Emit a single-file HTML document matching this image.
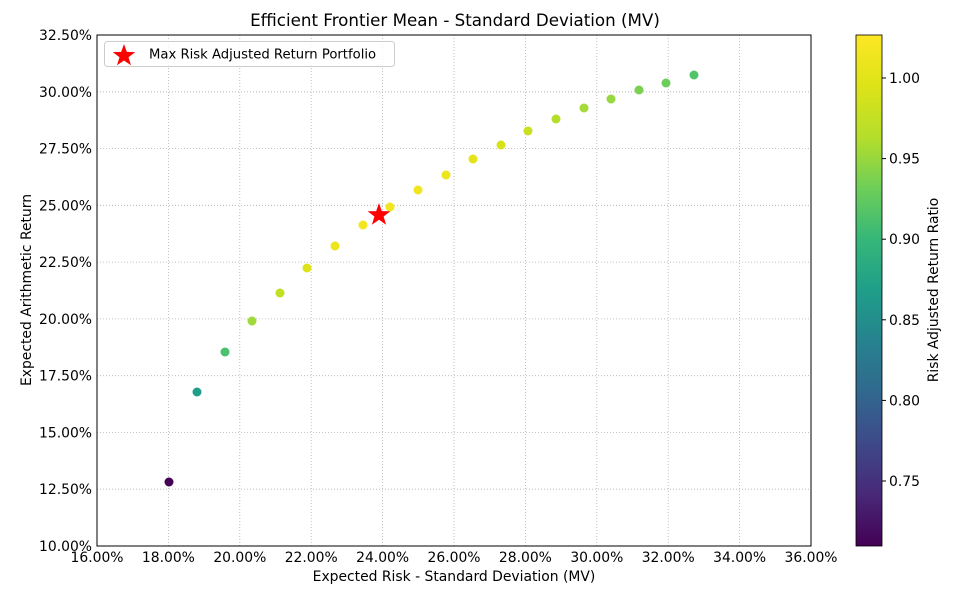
<!DOCTYPE html>
<html><head><meta charset="utf-8"><style>body{margin:0;background:#fff}svg{display:block;font-family:"DejaVu Sans","Liberation Sans",sans-serif}</style></head><body>
<svg width="970" height="593" viewBox="0 0 970 593" xmlns="http://www.w3.org/2000/svg">
<defs><linearGradient id="vir" x1="0" y1="1" x2="0" y2="0">
<stop offset="0" stop-color="#440154"/><stop offset="0.1" stop-color="#482878"/><stop offset="0.2" stop-color="#3e4989"/><stop offset="0.3" stop-color="#31688e"/><stop offset="0.4" stop-color="#26828e"/><stop offset="0.5" stop-color="#1f9e89"/><stop offset="0.6" stop-color="#35b779"/><stop offset="0.7" stop-color="#6ece58"/><stop offset="0.8" stop-color="#b5de2b"/><stop offset="0.9" stop-color="#dde318"/><stop offset="1" stop-color="#fde725"/></linearGradient></defs>
<text x="455" y="26" font-size="16.7" text-anchor="middle">Efficient Frontier Mean - Standard Deviation (MV)</text>
<g stroke="#b0b0b0" stroke-width="0.8" stroke-dasharray="1,2">
<line x1="168.4" y1="35" x2="168.4" y2="546"/><line x1="239.8" y1="35" x2="239.8" y2="546"/><line x1="311.2" y1="35" x2="311.2" y2="546"/><line x1="382.6" y1="35" x2="382.6" y2="546"/><line x1="454" y1="35" x2="454" y2="546"/><line x1="525.4" y1="35" x2="525.4" y2="546"/><line x1="596.8" y1="35" x2="596.8" y2="546"/><line x1="668.2" y1="35" x2="668.2" y2="546"/><line x1="739.6" y1="35" x2="739.6" y2="546"/>
<line x1="97" y1="91.8" x2="811" y2="91.8"/><line x1="97" y1="148.6" x2="811" y2="148.6"/><line x1="97" y1="205.3" x2="811" y2="205.3"/><line x1="97" y1="262.1" x2="811" y2="262.1"/><line x1="97" y1="318.9" x2="811" y2="318.9"/><line x1="97" y1="375.7" x2="811" y2="375.7"/><line x1="97" y1="432.4" x2="811" y2="432.4"/><line x1="97" y1="489.2" x2="811" y2="489.2"/>
</g>
<rect x="97" y="35" width="714" height="511" fill="none" stroke="#000" stroke-width="1"/>
<g font-size="13.9" text-anchor="middle">
<text x="97" y="562">16.00%</text><text x="168.4" y="562">18.00%</text><text x="239.8" y="562">20.00%</text><text x="311.2" y="562">22.00%</text><text x="382.6" y="562">24.00%</text><text x="454" y="562">26.00%</text><text x="525.4" y="562">28.00%</text><text x="596.8" y="562">30.00%</text><text x="668.2" y="562">32.00%</text><text x="739.6" y="562">34.00%</text><text x="811" y="562">36.00%</text>
<text x="454" y="581">Expected Risk - Standard Deviation (MV)</text>
</g>
<g font-size="13.9" text-anchor="end">
<text x="92" y="40">32.50%</text><text x="92" y="96.8">30.00%</text><text x="92" y="153.6">27.50%</text><text x="92" y="210.3">25.00%</text><text x="92" y="267.1">22.50%</text><text x="92" y="323.9">20.00%</text><text x="92" y="380.7">17.50%</text><text x="92" y="437.4">15.00%</text><text x="92" y="494.2">12.50%</text><text x="92" y="551">10.00%</text>
</g>
<text transform="translate(31,290) rotate(-90)" font-size="13.9" text-anchor="middle">Expected Arithmetic Return</text>
<g>
<circle cx="169" cy="482" r="4.5" fill="#440154"/><circle cx="197" cy="392" r="4.5" fill="#1f9e89"/><circle cx="225" cy="352" r="4.5" fill="#4ac16d"/><circle cx="252" cy="321" r="4.5" fill="#9fda3a"/><circle cx="280" cy="293" r="4.5" fill="#c2df23"/><circle cx="307" cy="268" r="4.5" fill="#dde318"/><circle cx="335" cy="246" r="4.5" fill="#ece51b"/><circle cx="363" cy="225" r="4.5" fill="#f3e51e"/><circle cx="390" cy="207" r="4.5" fill="#f3e51e"/><circle cx="418" cy="190" r="4.5" fill="#f1e51d"/><circle cx="446" cy="175" r="4.5" fill="#ece51b"/><circle cx="473" cy="159" r="4.5" fill="#e5e419"/><circle cx="501" cy="145" r="4.5" fill="#d8e219"/><circle cx="528" cy="131" r="4.5" fill="#c8e020"/><circle cx="556" cy="119" r="4.5" fill="#b5de2b"/><circle cx="584" cy="108" r="4.5" fill="#a5db36"/><circle cx="611" cy="99" r="4.5" fill="#95d840"/><circle cx="639" cy="90" r="4.5" fill="#7ad151"/><circle cx="666" cy="83" r="4.5" fill="#6ccd5a"/><circle cx="694" cy="75" r="4.5" fill="#52c569"/>
</g>
<polygon points="379,203 381.8,211.1 390.4,211.3 383.6,216.5 386.1,224.7 379,219.8 371.9,224.7 374.4,216.5 367.6,211.3 376.2,211.1" fill="#ff0000"/>
<rect x="104.5" y="41.5" width="290" height="25" rx="3" fill="#fff" fill-opacity="0.8" stroke="#ccc"/>
<polygon points="124,44 126.8,51.9 135.2,52.1 128.5,57.2 131,65.3 124,60.5 117,65.3 119.5,57.2 112.8,52.1 121.2,51.9" fill="#ff0000"/>
<text x="149" y="58.5" font-size="13.2">Max Risk Adjusted Return Portfolio</text>
<rect x="856" y="35" width="26" height="511" fill="url(#vir)"/>
<rect x="856" y="35" width="26" height="511" fill="none" stroke="#000" stroke-width="0.8"/>
<g font-size="13.9">
<text x="889" y="83">1.00</text><text x="889" y="163.6">0.95</text><text x="889" y="244.2">0.90</text><text x="889" y="324.8">0.85</text><text x="889" y="405.4">0.80</text><text x="889" y="486">0.75</text>
</g>
<g stroke="#000"><line x1="882" y1="78" x2="886" y2="78"/><line x1="882" y1="158.6" x2="886" y2="158.6"/><line x1="882" y1="239.2" x2="886" y2="239.2"/><line x1="882" y1="319.8" x2="886" y2="319.8"/><line x1="882" y1="400.4" x2="886" y2="400.4"/><line x1="882" y1="481" x2="886" y2="481"/></g>
<text transform="translate(938,290) rotate(-90)" font-size="13.9" text-anchor="middle">Risk Adjusted Return Ratio</text>
</svg>
</body></html>
